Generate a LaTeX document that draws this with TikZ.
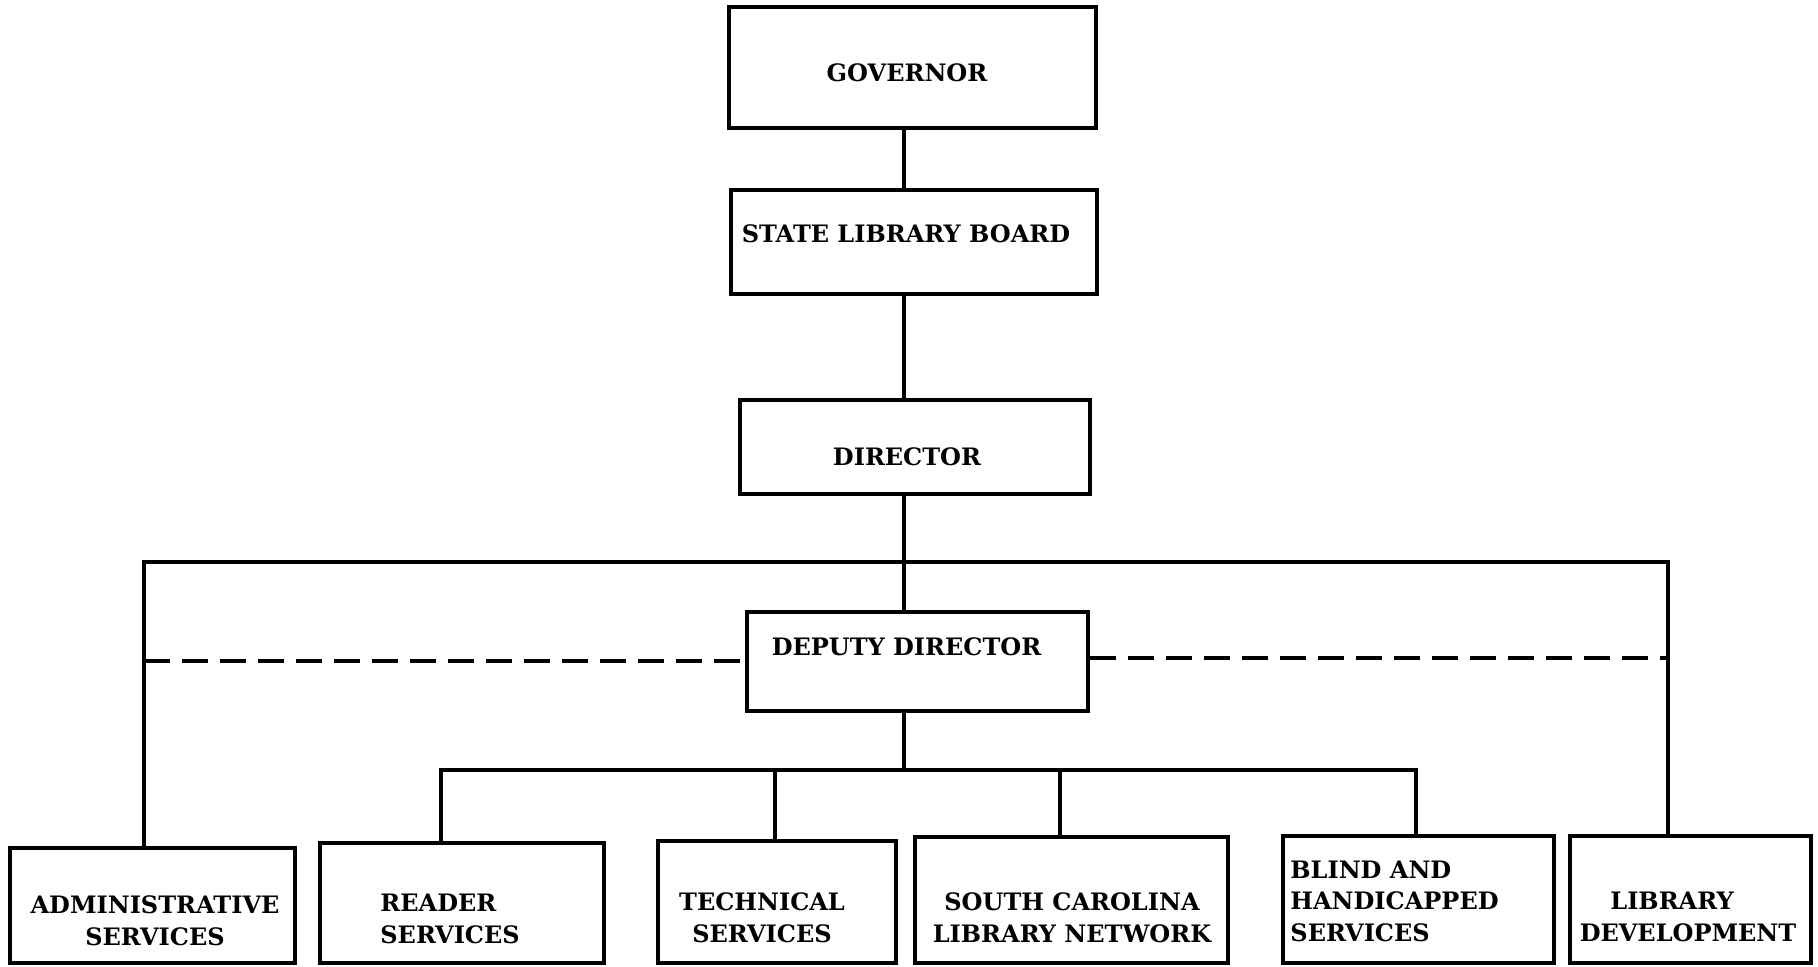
\documentclass[tikz,border=0pt]{standalone}
\usepackage{fontspec}
\setmainfont{DejaVu Serif}
\usetikzlibrary{fit}
\begin{document}
\begin{tikzpicture}[x=0.5pt,y=-0.5pt,
  box/.style={draw, line width=2.2pt, inner sep=0pt, fit={#1}},
  lbl/.style={font=\fontsize{12}{15.8}\selectfont\bfseries, inner sep=0pt, align=center},
  conn/.style={line width=2.1pt, line join=miter},
  dashconn/.style={line width=1.6pt, dash pattern=on 13pt off 6pt}]
\useasboundingbox (0,0) rectangle (1818,966);
% boxes
\node[box={(729,7) (1096,128)}] (gov) {};
\node[box={(731,190) (1097,294)}] (slb) {};
\node[box={(740,400) (1090,494)}] (dir) {};
\node[box={(747,612) (1088,711)}] (dep) {};
\node[box={(10,848) (295,963)}] (adm) {};
\node[box={(320,843) (604,963)}] (rdr) {};
\node[box={(658,841) (896,963)}] (tec) {};
\node[box={(915,837) (1228,963)}] (scl) {};
\node[box={(1283,836) (1554,963)}] (bld) {};
\node[box={(1570,836) (1811,963)}] (lib) {};
% labels
\node[lbl] (govT) at (907,72.5) {GOVERNOR};
\node[lbl] (slbT) at (906,233.5) {STATE LIBRARY BOARD};
\node[lbl] (dirT) at (907,456.5) {DIRECTOR};
\node[lbl] (depT) at (906.5,647) {DEPUTY DIRECTOR};
\node[lbl] (admT) at (155,920.5) {ADMINISTRATIVE\\SERVICES};
\node[lbl, anchor=west, align=left] (rdrT) at (380,919) {READER\\SERVICES};
\node[lbl] (tecT) at (762,918) {TECHNICAL\\SERVICES};
\node[lbl] (sclT) at (1072,917.5) {SOUTH CAROLINA\\LIBRARY NETWORK};
\node[lbl, anchor=west, align=left] (bldT) at (1290,901) {BLIND AND\\HANDICAPPED\\SERVICES};
\node[lbl] (libT) at (1688,917) {LIBRARY\hspace*{16pt}\\DEVELOPMENT};
% junction coordinates
\coordinate (spine) at (904,0);
\coordinate (busL) at (144,562);
\coordinate (busR) at (1668,562);
\coordinate (dashL) at (144,661);
\coordinate (dashR) at (1668,658);
\coordinate (d1) at (441,770);
\coordinate (d2) at (775,770);
\coordinate (d3) at (1060,770);
\coordinate (d4) at (1416,770);
% connectors
\draw[conn] (gov.south -| spine) -- (slb.north -| spine);
\draw[conn] (slb.south -| spine) -- (dir.north -| spine);
\draw[conn] (dir.south -| spine) -- (dep.north -| spine);
\draw[conn] (adm.north -| busL) -- (busL) -- (busR) -- (lib.north -| busR);
\draw[dashconn] (dashL) -- (dep.west |- dashL);
\draw[dashconn] (dep.east |- dashR) -- (dashR);
\draw[conn] (dep.south -| spine) -- (d1 -| spine);
\draw[conn] (rdr.north -| d1) -- (d1) -- (d4) -- (bld.north -| d4);
\draw[conn] (d2) -- (tec.north -| d2);
\draw[conn] (d3) -- (scl.north -| d3);
\end{tikzpicture}
\end{document}
